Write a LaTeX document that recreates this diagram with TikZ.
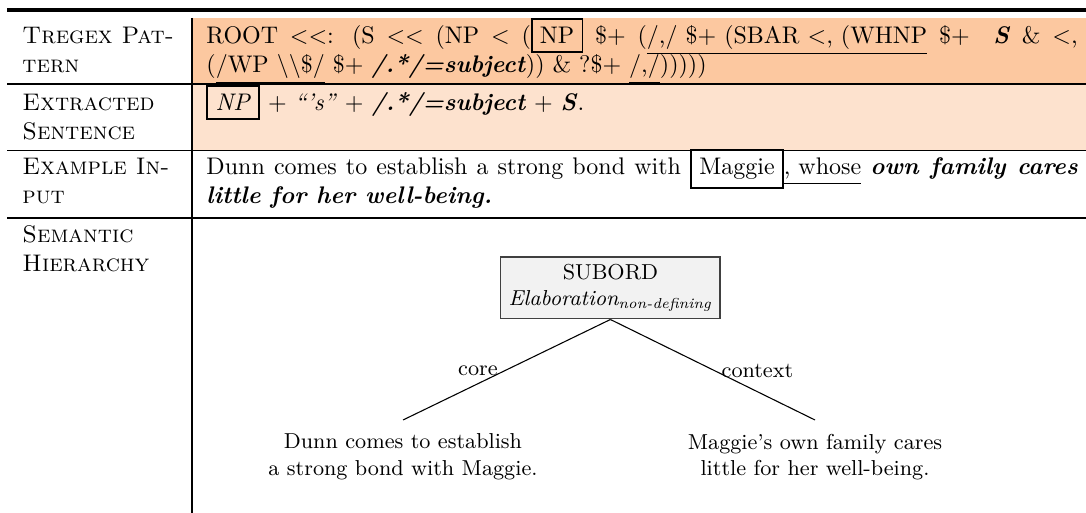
\documentclass[tikz,border=0pt]{standalone}
\usepackage{amsmath}
\setlength{\fboxrule}{0.8pt}
\setlength{\fboxsep}{3pt}
\definecolor{rowA}{RGB}{252,200,160}
\definecolor{rowB}{RGB}{253,226,206}
\definecolor{boxfill}{RGB}{242,242,242}
\tikzset{
  lab/.style={inner sep=0pt, anchor=base west},
  head/.style={lab, font=\scshape},
  toprulestyle/.style={line width=1.6pt},
  midrulestyle/.style={line width=0.8pt},
  thinrulestyle/.style={line width=0.45pt},
  relbox/.style={draw=black!75, fill=boxfill, line width=0.45pt, font=\small, align=center, minimum width=91.3pt, minimum height=25.8pt, inner sep=2pt},
  leaf/.style={font=\small, align=center, inner xsep=0pt, inner ysep=5.6pt, anchor=north},
  edgelab/.style={font=\small, inner sep=0pt},
  treeline/.style={line width=0.45pt}
}
\begin{document}
\begin{tikzpicture}[x=0.416667pt,y=-0.416667pt]
\useasboundingbox (0,0) rectangle (1086,513);
% backgrounds
\fill[rowA] (192,18) rectangle (1086,84);
\fill[rowB] (192,84) rectangle (1086,150.5);
% rules
\draw[toprulestyle] (7,10.3) -- (1086,10.3);
\draw[midrulestyle] (7,84) -- (192,84);
\draw[thinrulestyle] (192,84) -- (1086,84);
\draw[midrulestyle] (7,150.5) -- (1086,150.5);
\draw[midrulestyle] (7,218) -- (1086,218);
\draw[thinrulestyle] (192,18) -- (192,150.5);
\draw[midrulestyle] (192,150.5) -- (192,513);
% first column
\node[head] (h1a) at (22,44) {Tregex Pat-};
\node[head] (h1b) at (22,73) {tern};
\node[head] (h2a) at (22,111) {Extracted};
\node[head] (h2b) at (22,140) {Sentence};
\node[head] (h3a) at (22,175) {Example In-};
\node[head] (h3b) at (22,204) {put};
\node[head] (h4a) at (22,243) {Semantic};
\node[head] (h4b) at (22,272) {Hierarchy};
% second column
\node[lab] (p1) at (206,44) {\makebox[363pt][s]{ROOT $<<$: (S $<<$ (NP $<$ (\fbox{NP} \$+ (\underline{/,/ \$+ (SBAR $<$, (WHNP} \$+\ \ \textbf{\textit{S}} \& $<$,}};
\node[lab] (p2) at (206,73) {(\underline{/WP \textbackslash\textbackslash\$/} \$+ \textbf{\textit{/.*/=subject}})) \& ?\$+ \underline{/,/})))))};
\node[lab] (e1) at (206,111) {\fbox{\textit{NP}} + \textit{``'s''} + \textbf{\textit{/.*/=subject}} + \textbf{\textit{S}}.};
\node[lab] (x1) at (206,175) {\makebox[363pt][s]{Dunn comes to establish a strong bond with \fbox{Maggie}\underline{, whose} \textbf{\textit{own family cares}}}};
\node[lab] (x2) at (206,204) {\textbf{\textit{little for her well-being.}}};
% tree
\node[relbox] (sub) at (610.4,288) {SUBORD\\ $\textit{Elaboration}_{\textit{non-defining}}$};
\node[leaf] (core) at (403,420) {Dunn comes to establish\\a strong bond with Maggie.};
\node[leaf] (ctx) at (815,420) {Maggie's own family cares\\little for her well-being.};
\draw[treeline] (sub.south) -- node[edgelab, pos=0.5, anchor=base east, xshift=-3.5pt, yshift=-2.3pt] (lcore) {core} (core.north);
\draw[treeline] (sub.south) -- node[edgelab, pos=0.5, anchor=base west, xshift=3.5pt, yshift=-3.1pt] (lctx) {context} (ctx.north);
\end{tikzpicture}
\end{document}
